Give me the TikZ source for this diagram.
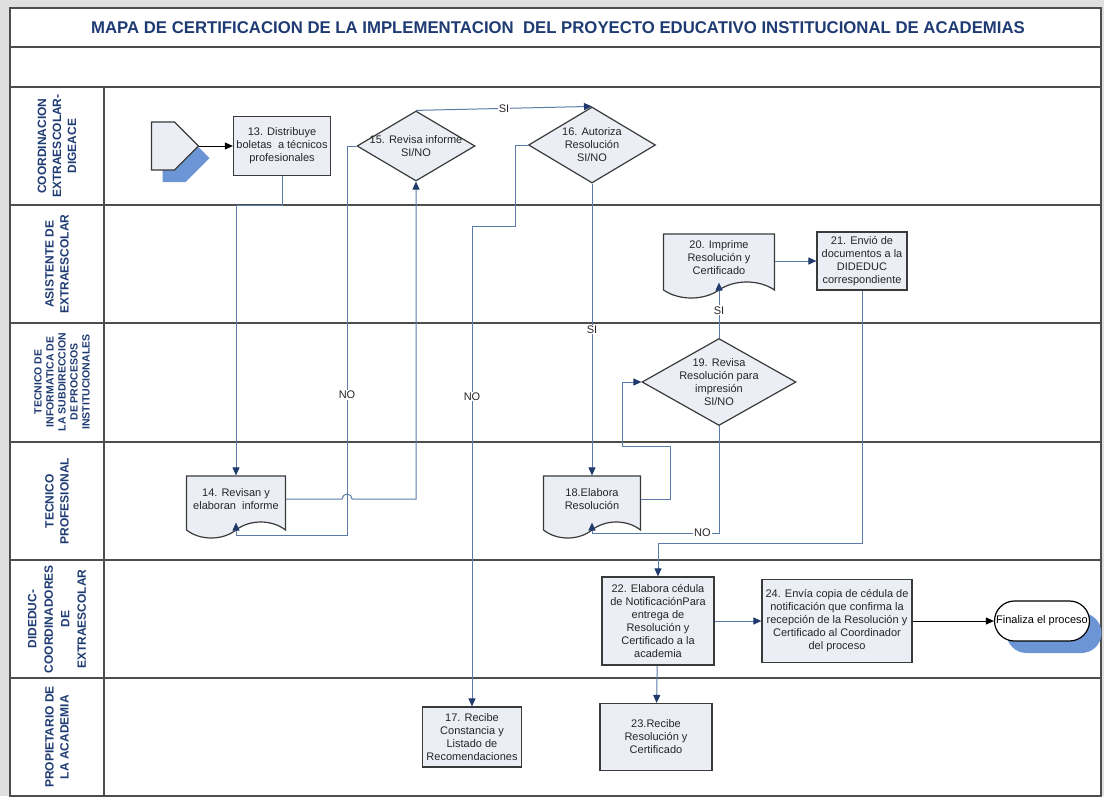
\documentclass[tikz,border=0pt]{standalone}
\usepackage{fontspec}
\setmainfont{Liberation Sans}
\usepackage{tikz}
\usetikzlibrary{shapes.geometric,shapes.symbols,shapes.misc,shadows,arrows.meta}

\definecolor{lanetext}{HTML}{1F3B73}
\definecolor{boxfill}{HTML}{EBEEF4}
\definecolor{boxline}{HTML}{3A3A3A}
\definecolor{flowline}{HTML}{5B7BA8}
\definecolor{tipblue}{HTML}{1F3A6B}
\definecolor{shadowblue}{HTML}{6C95D6}
\definecolor{gridline}{HTML}{4D4D4D}

\begin{document}
\begin{tikzpicture}[x=1pt,y=-1pt]
                \tikzstyle{proc}=[rectangle, draw=boxline, fill=boxfill, line width=1.2pt, inner sep=2pt, align=center, font=\fontsize{11}{13}\selectfont, text=black!85]
                \tikzstyle{decision}=[proc, diamond, inner xsep=-20pt, inner ysep=-4pt]
                \tikzstyle{doc}=[proc, tape, tape bend top=none, tape bend bottom=in and out, tape bend height=16pt]
                \tikzstyle{lane}=[rotate=90, align=center, font=\bfseries\fontsize{12}{15}\selectfont, text=lanetext]
                \tikzstyle{edge} = [draw, color=flowline, line width=1pt, -{Triangle[length=8pt,width=7pt,color=tipblue]}]
                \tikzstyle{blackedge} = [draw, color=black, line width=1pt, -{Triangle[length=8pt,width=7pt]}]
                \tikzstyle{lbl}=[fill=white, inner sep=1pt, font=\fontsize{11}{13}\selectfont, text=black!85]
                \tikzstyle{grid}=[draw=gridline, line width=1.5pt]

                \useasboundingbox (0,0) rectangle (1104,796);
                \fill[gray!25] (0,0) rectangle (1104,796);
                \fill[white] (10,8) rectangle (1101,796);

                % swimlanes
                \draw[grid] (10,8) rectangle (1101,796);
                \foreach \y in {47, 87, 205, 323, 442, 560, 678}
                \draw[grid] (10,\y) -- (1101,\y);
                \draw[grid] (104,87) -- (104,796);

                \node[font=\bfseries\fontsize{17}{20}\selectfont, text=lanetext] (title) at (558,28)
                  {\scalebox{0.985}[1]{MAPA DE CERTIFICACION DE LA IMPLEMENTACION\ \ DEL PROYECTO EDUCATIVO INSTITUCIONAL DE ACADEMIAS}};

                \node[lane] (l1) at (57,146) {COORDINACION\\EXTRAESCOLAR-\\DIGEACE};
                \node[lane] (l2) at (57,264) {ASISTENTE DE\\EXTRAESCOLAR};
                \node[lane, font=\bfseries\fontsize{10.5}{12}\selectfont] (l3) at (62,382) {TECNICO DE\\INFORMATICA DE\\LA SUBDIRECCION\\DE PROCESOS\\INSTITUCIONALES};
                \node[lane] (l4) at (57,501) {TECNICO\\PROFESIONAL};
                \node[lane, font=\bfseries\fontsize{12}{16.5}\selectfont] (l5) at (57,619) {DIDEDUC-\\COORDINADORES\\DE\\EXTRAESCOLAR};
                \node[lane] (l6) at (57,737) {PROPIETARIO DE\\LA ACADEMIA};

                % steps
                \node[signal, signal to=east, signal pointer angle=90, draw=boxline, fill=boxfill, line width=1.2pt, minimum width=47pt, minimum height=48pt, inner sep=0pt,
                      drop shadow={shadow xshift=11pt, shadow yshift=-12pt, fill=shadowblue, opacity=1}] (start) at (163,146) {};
                \node[proc, minimum width=97pt, minimum height=59pt] (n13) at (282,146) {13. Distribuye\\boletas\ \ a t\'ecnicos\\profesionales};
                \node[decision, minimum width=118pt, minimum height=70pt] (n15) at (416,146) {15. Revisa informe\\SI/NO};
                \node[decision, minimum width=127pt, minimum height=76pt] (n16) at (592,145) {16. Autoriza\\Resoluci\'on\\SI/NO};
                \node[doc, minimum width=111pt, minimum height=64pt] (n20) at (719,258) {20. Imprime\\Resoluci\'on y\\Certificado};
                \node[proc, minimum width=90pt, minimum height=58pt] (n21) at (862,261) {21. Envi\'o de\\documentos a la\\DIDEDUC\\correspondiente};
                \node[decision, minimum width=154pt, minimum height=87pt] (n19) at (719,382) {19. Revisa\\Resoluci\'on para\\impresi\'on\\SI/NO};
                \node[doc, minimum width=99pt, minimum height=62pt] (n14) at (236,499) {14. Revisan y\\elaboran\ \ informe};
                \node[doc, minimum width=97pt, minimum height=62pt] (n18) at (592,499) {18.Elabora\\Resoluci\'on};
                \node[proc, minimum width=112pt, minimum height=88pt] (n22) at (658,621) {22. Elabora c\'edula\\de Notificaci\'onPara\\entrega de\\Resoluci\'on y\\Certificado a la\\academia};
                \node[proc, minimum width=150pt, minimum height=83pt] (n24) at (837,621) {24. Env\'ia copia de c\'edula de\\notificaci\'on que confirma la\\recepci\'on de la Resoluci\'on y\\Certificado al Coordinador\\del proceso};
                \node[rounded rectangle, draw=black, fill=white, line width=1.2pt, minimum width=99pt, minimum height=40pt, inner sep=2pt, font=\fontsize{11}{13}\selectfont,
                      drop shadow={shadow xshift=12pt, shadow yshift=-12pt, fill=shadowblue, opacity=1}] (fin) at (1042,621) {Finaliza el proceso};
                \node[proc, minimum width=99pt, minimum height=60pt] (n17) at (472,737) {17. Recibe\\Constancia y\\Listado de\\Recomendaciones};
                \node[proc, minimum width=112pt, minimum height=67pt] (n23) at (656,737) {23.Recibe\\Resoluci\'on y\\Certificado};

                % connectors
                \path[blackedge] (start.east) -- (n13.west);
                \path[blackedge] (n24.east) -- (fin.west);
                \foreach \source/ \dest in {n22/n24, n22/n23}
                \path[edge] (\source) -- (\dest);
                \path[edge] (n20.east |- n21.west) -- (n21.west);
                \path[edge] (n13.south) |- (236,205) -- (n14.north);
                \path[edge] (n14.east) -- ++(56,0) arc (180:360:5) -- (n15.south |- n14.east) -- (n15.south);
                \path[edge] (n15.west) -- (347,146) -- node[lbl, pos=0.64] {NO} (347,535) -| (n14.south);
                \path[edge] (n15.north) -- node[lbl] {SI} (n16.north);
                \path[edge] (n16.west) -| (515,226) -- (472,226) -- node[lbl, pos=0.355] {NO} (n17.north);
                \path[edge] (n16.south) -- node[lbl] {SI} (n18.north);
                \path[edge] (n18.east) -- (670,499) -- (670,446) -- (622,446) |- (n19.west);
                \path[edge] (n19.south) -- (719,533) -- node[lbl, pos=0.13] {NO} (592,533) -- (n18.south);
                \path[edge] (n19.north) -- node[lbl] {SI} (n20.south);
                \path[edge] (n21.south) -- (862,543) -| (n22.north);
            \end{tikzpicture}
\end{document}
